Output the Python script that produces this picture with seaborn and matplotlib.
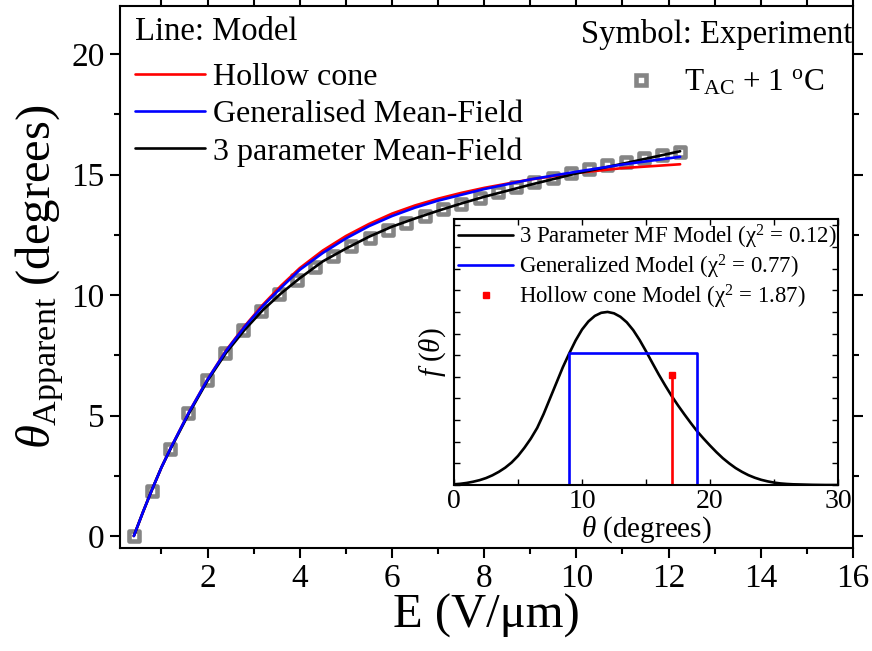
import numpy as np
import pandas as pd
import matplotlib
matplotlib.use("Agg")
import matplotlib.pyplot as plt
import seaborn as sns
from matplotlib.lines import Line2D
from matplotlib.ticker import MultipleLocator

# ---------------- data ----------------
E_exp = [0.41, 0.79, 1.19, 1.58, 1.98, 2.37, 2.76, 3.15, 3.54, 3.94, 4.33,
         4.73, 5.12, 5.52, 5.91, 6.31, 6.71, 7.11, 7.50, 7.90, 8.30, 8.70,
         9.09, 9.49, 9.88, 10.28, 10.67, 11.07, 11.46, 11.86, 12.25]
theta_exp = [0.0, 1.88, 3.60, 5.12, 6.46, 7.58, 8.54, 9.34, 10.03, 10.63, 11.15,
             11.61, 12.03, 12.38, 12.72, 13.01, 13.30, 13.57, 13.80, 14.05, 14.28,
             14.48, 14.68, 14.88, 15.05, 15.22, 15.38, 15.53, 15.67, 15.80, 15.92]

E_model = [0.4, 0.6, 0.8, 1.0, 1.2, 1.6, 2.0, 2.4, 2.8, 3.2, 3.6, 4.0, 4.5, 5.0,
           5.5, 6.0, 6.5, 7.0, 7.5, 8.0, 9.0, 10.0, 11.0, 12.25]
theta_hollow = [0.0, 1.0, 1.95, 2.85, 3.65, 5.15, 6.5, 7.7, 8.7, 9.6, 10.4, 11.12,
                11.85, 12.45, 12.95, 13.38, 13.72, 14.0, 14.24, 14.45, 14.8, 15.07,
                15.27, 15.43]
theta_general = [0.0, 1.0, 1.95, 2.85, 3.65, 5.15, 6.5, 7.68, 8.67, 9.55, 10.32,
                 11.05, 11.75, 12.35, 12.86, 13.28, 13.63, 13.92, 14.16, 14.4,
                 14.8, 15.12, 15.42, 15.74]
theta_3param = [0.0, 1.0, 1.95, 2.85, 3.63, 5.1, 6.45, 7.6, 8.55, 9.38, 10.08, 10.7,
                11.4, 11.93, 12.42, 12.84, 13.18, 13.5, 13.8, 14.08, 14.58, 15.05,
                15.45, 15.97]

# inset: distribution functions f(theta) (peak normalised to 1)
theta_dist = [0, 0.5, 1, 1.5, 2, 2.5, 3, 3.5, 4, 4.5, 5, 5.5, 6, 6.5, 7, 7.5, 8,
              8.5, 9, 9.5, 10, 10.5, 11, 11.5, 12, 12.5, 13, 13.5, 14, 14.5, 15,
              15.5, 16, 16.5, 17, 17.5, 18, 18.5, 19, 19.5, 20, 20.5, 21, 21.5,
              22, 22.5, 23, 23.5, 24, 24.5, 25, 25.5, 26, 26.5, 27, 28, 29, 30]
f_3param = [0.004, 0.007, 0.012, 0.019, 0.028, 0.04, 0.056, 0.076, 0.1, 0.13,
            0.168, 0.215, 0.268, 0.33, 0.41, 0.5, 0.59, 0.68, 0.76, 0.835, 0.898,
            0.945, 0.977, 0.995, 1.0, 0.992, 0.972, 0.94, 0.895, 0.838, 0.773,
            0.705, 0.638, 0.575, 0.515, 0.46, 0.408, 0.358, 0.31, 0.268, 0.228,
            0.19, 0.155, 0.125, 0.098, 0.076, 0.057, 0.042, 0.03, 0.021, 0.014,
            0.009, 0.006, 0.004, 0.003, 0.001, 0.0, 0.0]
theta_general_box = [9, 9, 19, 19]
f_general_box = [0.0, 0.762, 0.762, 0.0]
theta_hollow_cone = 17.0
f_hollow_cone = 0.635

labels_main = ["Hollow cone", "Generalised Mean-Field", "3 parameter Mean-Field"]
label_exp = r"T$_{\mathregular{AC}}$ + 1 $^{\mathregular{o}}$C"
labels_inset = [r"3 Parameter MF Model ($\mathregular{\chi^{2}}$ = 0.12)",
                r"Generalized Model ($\mathregular{\chi^{2}}$ = 0.77)",
                r"Hollow cone Model ($\mathregular{\chi^{2}}$ = 1.87)"]

# ---------------- style ----------------
sns.set_theme(style="ticks")
plt.rcParams.update({
    "font.family": ["Liberation Serif", "DejaVu Serif"],
    "mathtext.fontset": "custom",
    "mathtext.rm": "Liberation Serif",
    "mathtext.it": "Liberation Serif:italic",
    "mathtext.bf": "Liberation Serif:bold",
    "axes.linewidth": 1.5,
    "axes.edgecolor": "black",
    "xtick.color": "black",
    "ytick.color": "black",
    "text.color": "black",
    "axes.labelcolor": "black",
})

fig = plt.figure(figsize=(8.72, 6.51), dpi=100)
W, H = 872, 651
ax = fig.add_axes([120 / W, 1 - 548 / H, (853 - 120) / W, (548 - 6) / H])

df_exp = pd.DataFrame({"E": E_exp, "theta": theta_exp})
sns.scatterplot(data=df_exp, x="E", y="theta", ax=ax, marker="s", s=45,
                color="white", edgecolor="#858585", linewidth=3.3, zorder=2,
                legend=False)

df_mod = pd.DataFrame({"E": E_model, "hollow": theta_hollow,
                       "general": theta_general, "three": theta_3param})
sns.lineplot(data=df_mod, x="E", y="hollow", ax=ax, color="#ff0000", lw=1.9,
             estimator=None, sort=False, zorder=3)
sns.lineplot(data=df_mod, x="E", y="three", ax=ax, color="black", lw=1.9,
             estimator=None, sort=False, zorder=3)
sns.lineplot(data=df_mod, x="E", y="general", ax=ax, color="#0000ff", lw=1.9,
             estimator=None, sort=False, zorder=3)

ax.set_xlim(0.1, 16)
ax.set_ylim(-0.5, 22)
ax.xaxis.set_major_locator(MultipleLocator(2))
ax.xaxis.set_minor_locator(MultipleLocator(1))
ax.yaxis.set_major_locator(MultipleLocator(5))
ax.yaxis.set_minor_locator(MultipleLocator(2.5))
ax.tick_params(which="both", direction="out", top=True, right=True,
               width=1.5, labelsize=24, pad=4)
ax.tick_params(which="major", length=7)
ax.tick_params(which="minor", length=4)
ax.set_xlabel("E (V/μm)", fontsize=35, labelpad=0)
ax.set_ylabel(r"$\theta_{\mathregular{Apparent}}$ (degrees)", fontsize=35, labelpad=4)

# legend for the model lines
ax.text(0.0205, 0.952, "Line: Model", transform=ax.transAxes, fontsize=23.5,
        ha="left", va="center")
h_main = [Line2D([], [], color="#ff0000", lw=1.9),
          Line2D([], [], color="#0000ff", lw=1.9),
          Line2D([], [], color="black", lw=1.9)]
leg1 = ax.legend(h_main, labels_main, loc="upper left",
                 bbox_to_anchor=(0.0205, 0.896), frameon=False, fontsize=23,
                 handlelength=2.2, handletextpad=0.25, labelspacing=0.25,
                 borderaxespad=0, borderpad=0)
ax.add_artist(leg1)

# legend for the experiment symbols
ax.text(0.999, 0.9465, "Symbol: Experiment", transform=ax.transAxes,
        fontsize=23.5, ha="right", va="center")
h_exp = [Line2D([], [], ls="none", marker="s", markersize=6.5,
                markerfacecolor="white", markeredgecolor="#858585",
                markeredgewidth=3.3)]
leg2 = ax.legend(h_exp, [label_exp], loc="upper left",
                 bbox_to_anchor=(0.69, 0.885), frameon=False, fontsize=22.5,
                 handlelength=1.0, handletextpad=0.85,
                 borderaxespad=0, borderpad=0)

# ---------------- inset ----------------
axi = fig.add_axes([454 / W, 1 - 485 / H, (838 - 454) / W, (485 - 219) / H])
df_dist = pd.DataFrame({"theta": theta_dist, "f": f_3param})
sns.lineplot(data=df_dist, x="theta", y="f", ax=axi, color="black", lw=1.9,
             estimator=None, sort=False)
df_box = pd.DataFrame({"theta": theta_general_box, "f": f_general_box})
sns.lineplot(data=df_box, x="theta", y="f", ax=axi, color="#0000ff", lw=1.9,
             estimator=None, sort=False)
df_hc = pd.DataFrame({"theta": [theta_hollow_cone, theta_hollow_cone],
                      "f": [0.0, f_hollow_cone]})
sns.lineplot(data=df_hc, x="theta", y="f", ax=axi, color="#ff0000", lw=1.9,
             estimator=None, sort=False)
axi.plot([theta_hollow_cone], [f_hollow_cone], ls="none", marker="s",
         markersize=4.5, color="#ff0000")

axi.set_xlim(0, 30)
axi.set_ylim(0, 1.537)
axi.xaxis.set_major_locator(MultipleLocator(10))
axi.xaxis.set_minor_locator(MultipleLocator(5))
axi.yaxis.set_major_locator(MultipleLocator(0.125))
axi.tick_params(which="both", direction="in", top=True, right=True,
                width=1.0, length=4, labelsize=20, pad=3)
axi.tick_params(axis="y", labelleft=False)
axi.set_xlabel(r"$\theta$ (degrees)", fontsize=21, labelpad=0)
axi.set_ylabel(r"$f\ (\theta)$", fontsize=21, labelpad=4)

h_in = [Line2D([], [], color="black", lw=1.9),
        Line2D([], [], color="#0000ff", lw=1.9),
        Line2D([], [], ls="none", marker="s", markersize=4.5, color="#ff0000")]
axi.legend(h_in, labels_inset, loc="upper left", bbox_to_anchor=(0.005, 0.995),
           frameon=False, fontsize=16.4, handlelength=2.4, handletextpad=0.25,
           labelspacing=0.08, borderaxespad=0, borderpad=0.1)

fig.savefig("out.png", dpi=100)
